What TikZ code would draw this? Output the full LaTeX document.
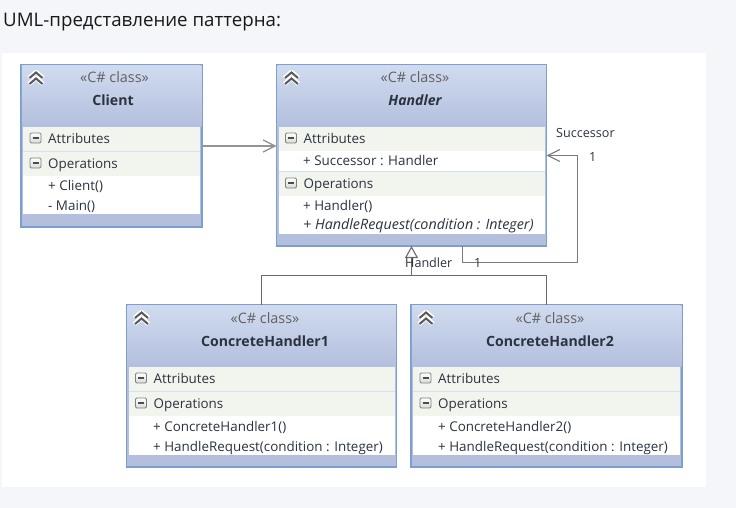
\documentclass[tikz,border=0pt]{standalone}
\usepackage{fontspec}
\setmainfont{Open Sans}
\usetikzlibrary{arrows.meta}

\definecolor{pagebg}{HTML}{F5F6F9}
\definecolor{frameblue}{HTML}{7C9FD0}
\definecolor{headtop}{HTML}{D0DBEF}
\definecolor{headbot}{HTML}{B3BFDD}
\definecolor{bandgreen}{HTML}{F2F5EE}
\definecolor{bandline}{HTML}{D6E0F0}
\definecolor{inkdark}{HTML}{2B3240}

\tikzset{
  classbox/.style={draw=frameblue,line width=1.5pt,fill=headbot,anchor=north west,inner sep=0pt,outer sep=0pt},
  headbox/.style={top color=headtop,bottom color=headbot,anchor=north west,inner sep=0pt,outer sep=0pt},
  whitebox/.style={fill=white,anchor=north west,inner sep=0pt,outer sep=0pt},
  bandbox/.style={fill=bandgreen,anchor=north west,inner sep=0pt,outer sep=0pt},
  label/.style={font=\fontsize{13.4}{15}\selectfont,text=inkdark,inner sep=0pt,anchor=base west},
  linklabel/.style={font=\fontsize{12.6}{15}\selectfont,text=inkdark,inner sep=0pt,anchor=base west},
  stereo/.style={font=\fontsize{14.4}{16}\selectfont,text=black!62,inner sep=0pt,anchor=base},
  classname/.style={font=\fontsize{14.1}{16}\selectfont\bfseries,text=inkdark,inner sep=0pt,anchor=base},
  assoc/.style={draw=black!42,line width=1.3pt,-{Straight Barb[length=12pt,width=12pt]}},
  assocdark/.style={draw=black!52,line width=1.2pt,-{Straight Barb[length=12pt,width=12pt]}},
  inherit/.style={draw=black!58,line width=1.1pt,-{Triangle[open,length=12pt,width=13pt,fill=white]}},
  tree/.style={draw=black!58,line width=1.1pt},
  chevrons/.pic={
    \draw[white,line width=4.5pt,line join=round] (-7,-1) -- (0,-7) -- (7,-1) (-7,5) -- (0,-1) -- (7,5);
    \draw[black!65,line width=2pt] (-6.5,-1) -- (0,-6.5) -- (6.5,-1) (-6.5,5) -- (0,-0.5) -- (6.5,5);
  },
  minusbox/.pic={
    \draw[draw=black!50,line width=0.9pt,rounded corners=1.2pt,top color=white,bottom color=black!15] (-5.5,-5) rectangle (5.5,5);
    \draw[black!70,line width=1.1pt] (-3,0) -- (3,0);
  }
}

% frame, header and chevrons of one class: id, x, y, w, h
\newcommand{\classframe}[5]{
  \node[classbox,minimum width=#4pt,minimum height=#5pt] (#1) at (#2,#3) {};
  \node[headbox,minimum width=#4pt-1.5pt,minimum height=61pt] (#1Head) at (#2+0.75,#3+0.75) {};
  \pic at (#2+15,#3+14) {chevrons};
}
% compartment title: id, text, x, y (middle of band), w
\newcommand{\compartment}[5]{
  \node[bandbox,minimum width=#5pt-4pt,minimum height=24pt] (#1Band) at (#3+2,#4-12) {};
  \pic at (#3+14.5,#4-1) {minusbox};
  \node[label] (#1) at (#3+27,#4+4.2) {#2};
}

\begin{document}
\begin{tikzpicture}[x=1pt,y=-1pt]
  \useasboundingbox (0,0) rectangle (736,508);
  \fill[pagebg] (0,0) rectangle (736,508);
  \fill[white] (2,53) rectangle (706,487);
  \node[inner sep=0pt,anchor=base west,font=\fontsize{18.7}{22}\selectfont,text=black!90] (title) at (3,27) {UML-представление паттерна:};

  % Client
  \classframe{client}{21}{65}{181}{162}
  \node[stereo] (clientStereo) at (114.5,83) {«C\# class»};
  \node[classname] (clientName) at (113,106) {Client};
  \node[whitebox,minimum width=177pt,minimum height=87pt] (clientBody) at (23,127) {};
  \compartment{clientAttr}{Attributes}{21}{139}{181}
  \draw[bandline] (23,151.5) -- (200,151.5);
  \compartment{clientOper}{Operations}{21}{164}{181}
  \node[label] (clientCtor) at (48,190) {+ Client()};
  \node[label] (clientMain) at (48,210) {- Main()};

  % Handler
  \classframe{handler}{276.5}{65}{270}{181}
  \node[stereo] (handlerStereo) at (415,83) {«C\# class»};
  \node[classname,font=\fontsize{14.1}{16}\selectfont\bfseries\itshape] (handlerName) at (415,106) {Handler};
  \node[whitebox,minimum width=266pt,minimum height=107pt] (handlerBody) at (278.5,127) {};
  \compartment{handlerAttr}{Attributes}{276.5}{139}{270}
  \node[label] (handlerSucc) at (303,165) {+ Successor : Handler};
  \draw[bandline,line width=1pt] (279,171.5) -- (545,171.5);
  \compartment{handlerOper}{Operations}{276.5}{184}{270}
  \node[label] (handlerCtor) at (303,210) {+ Handler()};
  \node[label,font=\fontsize{14.3}{15}\selectfont\itshape] (handlerReq) at (303,229.5) {+ HandleRequest(condition : Integer)};

  % ConcreteHandler1
  \classframe{concreteA}{126.5}{305}{270}{162}
  \node[stereo] (concreteAStereo) at (265,323) {«C\# class»};
  \node[classname] (concreteAName) at (265,346) {ConcreteHandler1};
  \node[whitebox,minimum width=266pt,minimum height=88pt] (concreteABody) at (128.5,367) {};
  \compartment{concreteAAttr}{Attributes}{126.5}{379}{270}
  \draw[bandline] (129,391.5) -- (395,391.5);
  \compartment{concreteAOper}{Operations}{126.5}{404}{270}
  \node[label] (concreteACtor) at (153,431) {+ ConcreteHandler1()};
  \node[label] (concreteAReq) at (153,451) {+ HandleRequest(condition : Integer)};

  % ConcreteHandler2
  \classframe{concreteB}{411}{305}{271}{162}
  \node[stereo] (concreteBStereo) at (550,323) {«C\# class»};
  \node[classname] (concreteBName) at (550,346) {ConcreteHandler2};
  \node[whitebox,minimum width=267pt,minimum height=88pt] (concreteBBody) at (413,367) {};
  \compartment{concreteBAttr}{Attributes}{411}{379}{271}
  \draw[bandline] (413,391.5) -- (680,391.5);
  \compartment{concreteBOper}{Operations}{411}{404}{271}
  \node[label] (concreteBCtor) at (438,431) {+ ConcreteHandler2()};
  \node[label] (concreteBReq) at (438,451) {+ HandleRequest(condition : Integer)};

  % Connectors
  \draw[assoc] (client.east) -- (client.east -| handler.west);
  \coordinate (loopStart) at (462.5,246);
  \coordinate (loopCorner) at (577.5,262.5);
  \draw[assocdark] (loopStart) |- (loopCorner) |- (handler.east);
  \coordinate (treeMid) at (411.5,275.5);
  \draw[inherit] (treeMid) -- (handler.south);
  \draw[tree] (concreteA.north) |- (treeMid) -| (concreteB.north);

  % Labels
  \node[linklabel] (succName) at (556,138) {Successor};
  \node[linklabel] (succOne) at (589,161) {1};
  \node[linklabel] (baseName) at (405,267) {Handler};
  \node[linklabel] (baseOne) at (474,267) {1};
\end{tikzpicture}
\end{document}
